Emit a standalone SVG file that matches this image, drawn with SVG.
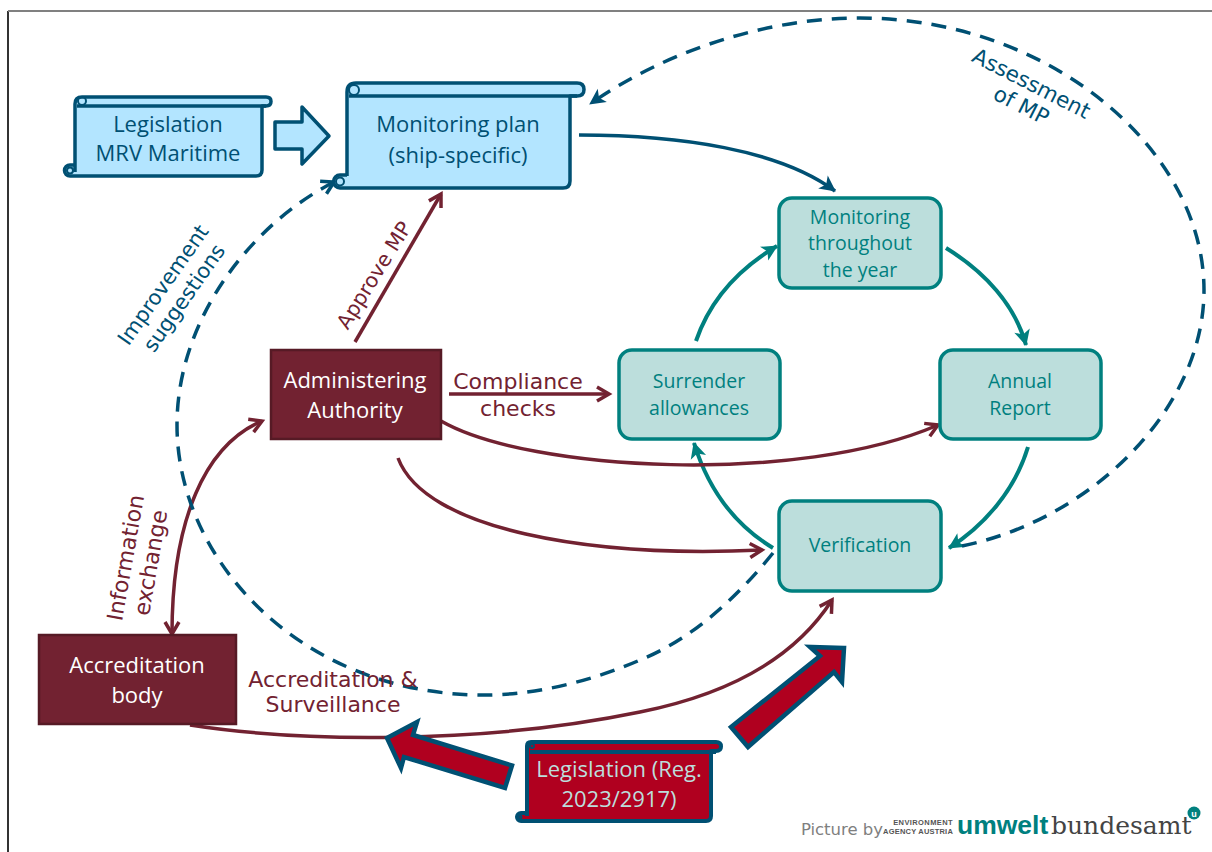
<svg xmlns="http://www.w3.org/2000/svg" width="1212" height="852" viewBox="0 0 1212 852">
<style>
text{font-family:"Open Sans","Noto Sans","DejaVu Sans",sans-serif;text-anchor:middle}
.bl{fill:#005073;font-size:22px}
.tl{fill:#00807f;font-size:19.500px}
.rd{fill:#722231;font-size:22px;font-family:"DejaVu Sans",sans-serif}
.blr{fill:#005073;font-size:21px;font-family:"DejaVu Sans",sans-serif}
.wh{fill:#ffffff;font-size:22px}
.rw{fill:#bcdedc;font-size:22px}
.scroll{fill:#b3e5ff;stroke:#005073;stroke-width:3.500;stroke-linejoin:round}
.rs{fill:#b0001f;stroke:#005073;stroke-width:4;stroke-linejoin:round}
.curl{fill:none;stroke:#005073;stroke-width:2}
.tbox{fill:#bcdedc;stroke:#00807f;stroke-width:3.500}
.rbox{fill:#722231;stroke:#561a25;stroke-width:2.500}
.c{fill:none;stroke-width:3.500}
.cb{stroke:#005073}.ct{stroke:#00807f;stroke-width:4}.cr{stroke:#722231}
.d{stroke-dasharray:15 10}
.big{fill:#b0001f;stroke:#005073;stroke-width:4.500;stroke-linejoin:miter}
.cred{font-family:"Liberation Sans",sans-serif}
</style>
<defs>
<marker id="ab" markerUnits="userSpaceOnUse" markerWidth="20" markerHeight="20" viewBox="0 0 20 20" refX="16" refY="10" orient="auto"><path d="M1 2L17 10L1 18L5 10Z" fill="#005073"/></marker>
<marker id="at" markerUnits="userSpaceOnUse" markerWidth="20" markerHeight="20" viewBox="0 0 20 20" refX="16" refY="10" orient="auto"><path d="M1 2L17 10L1 18L5 10Z" fill="#00807f"/></marker>
<marker id="ar" markerUnits="userSpaceOnUse" markerWidth="20" markerHeight="20" viewBox="0 0 20 20" refX="15" refY="10" orient="auto-start-reverse"><path d="M3 3L15 10L3 17" fill="none" stroke="#722231" stroke-width="3.500"/></marker>
<marker id="ao" markerUnits="userSpaceOnUse" markerWidth="20" markerHeight="20" viewBox="0 0 20 20" refX="15" refY="10" orient="auto"><path d="M3 3L15 10L3 17" fill="none" stroke="#005073" stroke-width="3.500"/></marker>
</defs>
<path d="M8 852V11" fill="none" stroke="#333" stroke-width="2"/>
<path d="M8 11H1212" fill="none" stroke="#808080" stroke-width="2"/>
<g id="connectors">
<path class="c cb" marker-end="url(#ab)" d="M579 135C680 135 780 150 835 191"/>
<path class="c ct" marker-end="url(#at)" d="M696 341C710 300 740 268 777 246"/>
<path class="c ct" marker-end="url(#at)" d="M946 248C985 272 1015 305 1026 345"/>
<path class="c ct" marker-end="url(#at)" d="M1028 447C1015 490 985 525 949 548"/>
<path class="c ct" marker-end="url(#at)" d="M773 548C740 528 710 495 694 443"/>
<path class="c cr" marker-end="url(#ar)" d="M355 342L441 194"/>
<path class="c cr" marker-end="url(#ar)" d="M449 394H609"/>
<path class="c cr" marker-end="url(#ar)" d="M441 421C530 472 800 485 938 425"/>
<path class="c cr" marker-end="url(#ar)" d="M398 458C425 530 590 558 762 550"/>
<path class="c cr" marker-start="url(#ar)" marker-end="url(#ar)" d="M262 421C205 445 172 520 172 634"/>
<path class="c cr" marker-end="url(#ar)" d="M190 725C300 742 480 745 640 712C740 692 800 650 832 600"/>
<path class="c cb d" marker-end="url(#ao)" d="M773 553C735 600 690 640 640 660C590 682 530 696 480 695C300 693 177 560 177 425C177 320 250 225 334 182"/>
<path class="c cb d" marker-end="url(#ab)" d="M962 546C1090 520 1204 410 1204 290C1204 150 1050 18 860 18C760 18 660 55 590 104"/>
</g>
<g id="legislation-mrv">
<path class="scroll" d="M75 172V104Q75 97 82 97H266Q271 97 271 101.500Q271 106 266 106H262V170Q262 176 256 176H70A5.500 5.500 0 0 1 70 165H75"/>
<path class="scroll" d="M77 106H266" fill="none"/>
<circle class="curl" cx="82" cy="101" r="4"/><circle class="curl" cx="70" cy="170.500" r="3"/>
<text class="bl" x="168" y="132">Legislation</text><text class="bl" x="168" y="161">MRV Maritime</text>
</g>
<g id="mrv-arrow"><path class="scroll" d="M275 122H302V107L329 136L302 164V149H275Z"/></g>
<g id="monitoring-plan">
<path class="scroll" d="M347 176V92Q347 83 356 83H577Q584 83 584 89.500Q584 96 577 96H570V181Q570 188 563 188H340A6.500 6.500 0 0 1 340 175H347"/>
<path class="scroll" d="M349 96H577" fill="none"/>
<circle class="curl" cx="354" cy="90" r="5"/><circle class="curl" cx="340" cy="181.500" r="4"/>
<text class="bl" x="458" y="132">Monitoring plan</text><text class="bl" x="458" y="163">(ship-specific)</text>
</g>
<g id="monitoring-year"><rect class="tbox" x="779" y="198" width="162" height="90" rx="13"/>
<text class="tl" x="860" y="224">Monitoring</text><text class="tl" x="860" y="250">throughout</text><text class="tl" x="860" y="277">the year</text></g>
<g id="surrender"><rect class="tbox" x="619" y="350" width="161" height="89" rx="13"/>
<text class="tl" x="699" y="388">Surrender</text><text class="tl" x="699" y="415">allowances</text></g>
<g id="annual-report"><rect class="tbox" x="940" y="350" width="161" height="89" rx="13"/>
<text class="tl" x="1020" y="388">Annual</text><text class="tl" x="1020" y="415">Report</text></g>
<g id="verification"><rect class="tbox" x="779" y="501" width="162" height="90" rx="13"/>
<text class="tl" x="860" y="552">Verification</text></g>
<g id="administering"><rect class="rbox" x="271" y="350" width="170" height="89"/>
<text class="wh" x="355" y="388">Administering</text><text class="wh" x="355" y="418">Authority</text></g>
<g id="accreditation"><rect class="rbox" x="39" y="635" width="197" height="89"/>
<text class="wh" x="137" y="673">Accreditation</text><text class="wh" x="137" y="703">body</text></g>
<g id="big-arrows">
<path class="big" d="M387 738L417 722L413 735L512 765.500L505 788L404 757L401 768Z"/>
<path class="big" d="M844 648L810 647L820 656L731 727L748 747L834 672L842 682Z"/>
</g>
<g id="legislation-reg">
<path class="rs" d="M527 816V746Q527 742 531 742H716Q721 742 721 746.500Q721 751 716 751H711V816Q711 821 706 821H521A4 4 0 0 1 521 813H527"/>
<path class="rs" d="M530 752H716" fill="none"/>
<circle class="curl" cx="532" cy="746" r="2" stroke-width="1.500"/><circle class="curl" cx="520" cy="817" r="1.500" stroke-width="1.500"/>
<text class="rw" x="619" y="777">Legislation (Reg.</text><text class="rw" x="619" y="807">2023/2917)</text>
</g>
<g id="labels">
<text class="rd" transform="translate(380 279) rotate(-58)" style="font-size:20.500px">Approve MP</text>
<text class="rd" x="518" y="389">Compliance</text><text class="rd" x="518" y="416">checks</text>
<text class="rd" x="333" y="687">Accreditation &amp;</text><text class="rd" x="333" y="712">Surveillance</text>
<text class="rd" transform="translate(133 559) rotate(-80)">Information</text><text class="rd" transform="translate(158 564) rotate(-80)">exchange</text>
<text class="blr" transform="translate(169 289) rotate(-55)">Improvement</text><text class="blr" transform="translate(190 302) rotate(-55)">suggestions</text>
<text class="blr" transform="translate(1028 90) rotate(27)" style="font-size:21.500px">Assessment</text><text class="blr" transform="translate(1018 112) rotate(27)" style="font-size:21.500px">of MP</text>
</g>
<g id="credit">
<text x="842" y="835" style="fill:#7f7f7f;font-size:16.500px;font-family:'DejaVu Sans',sans-serif">Picture by</text>
<text class="cred" x="953" y="825" style="fill:#555;font-size:7.500px;font-weight:700;text-anchor:end;letter-spacing:.4px">ENVIRONMENT</text>
<text class="cred" x="953" y="834" style="fill:#555;font-size:7.500px;font-weight:700;text-anchor:end;letter-spacing:.2px">AGENCY AUSTRIA</text>
<text class="cred" x="957" y="834" style="fill:#00807f;font-size:26.500px;font-weight:700;text-anchor:start">umwelt</text>
<text x="1051" y="834" style="fill:#444;font-size:25px;text-anchor:start;font-family:'DejaVu Serif',serif">bundesamt</text>
<circle cx="1194" cy="813" r="6.500" fill="#00807f"/>
<text class="cred" x="1194" y="816.500" style="fill:#fff;font-size:9px;font-weight:700">u</text>
</g>
</svg>
